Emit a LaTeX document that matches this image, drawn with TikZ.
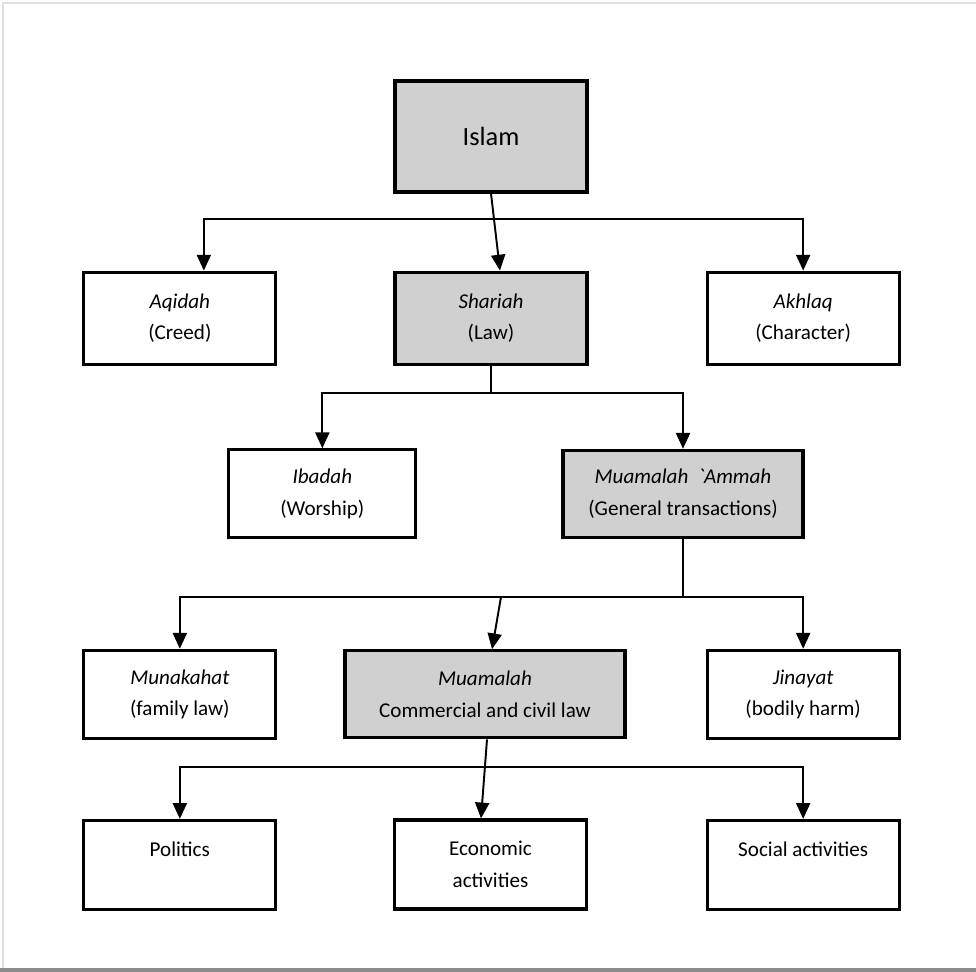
\documentclass[tikz,border=0pt]{standalone}
\usepackage{fontspec}
\setmainfont{Carlito}
\usepackage{xcolor}
\usepackage{tikz}
\usetikzlibrary{positioning,arrows.meta,calc}
\definecolor{boxgray}{RGB}{208,208,208}

\begin{document}
\begin{tikzpicture}[node distance=1.6cm, auto]
\tikzset{
    box/.style={rectangle, draw=black, line width=1.8pt, align=center, minimum width=3.84cm, minimum height=1.84cm, fill=white, font=\fontsize{12}{18}\selectfont},
    shaded/.style={box, fill=boxgray},
    arrow/.style={-{Triangle[length=9pt,width=8pt]}, line width=1.1pt},
    line/.style={line width=1.1pt}
}
\useasboundingbox (0,0) rectangle (19.52,-19.44);
\draw[black!12, line width=1pt] (0.06,-19.36) |- (19.52,-0.06);
\fill[black!45] (0,-19.36) rectangle (19.52,-19.44);

\node[shaded, minimum height=2.22cm, font=\fontsize{15}{18}\selectfont] (islam) at (9.82,-2.73) {Islam};
\node[shaded, below=1.54cm of islam] (shariah) {\textit{Shariah}\\(Law)};
\node[box, left=2.32cm of shariah] (aqidah) {\textit{Aqidah}\\(Creed)};
\node[box, right=2.34cm of shariah] (akhlaq) {\textit{Akhlaq}\\(Character)};
\node[shaded, below=1.66cm of shariah, xshift=3.84cm, minimum width=4.8cm, minimum height=1.74cm] (ammah) {\textit{Muamalah \ \textasciigrave Ammah}\\(General transactions)};
\node[box, left=2.88cm of ammah, minimum width=3.74cm, minimum height=1.76cm] (ibadah) {\textit{Ibadah}\\(Worship)};
\node[box, below=5.66cm of aqidah, minimum height=1.76cm] (munakahat) {\textit{Munakahat}\\(family law)};
\node[box, below=5.66cm of akhlaq, minimum height=1.76cm] (jinayat) {\textit{Jinayat}\\(bodily harm)};
\node[shaded, right=1.32cm of munakahat, minimum width=5.6cm, minimum height=1.74cm] (muamalah) {\textit{Muamalah}\\Commercial and civil law};
\node[box, below=1.58cm of munakahat, minimum height=1.78cm] (politics) {Politics\\\phantom{activities}};
\node[box, below=1.58cm of muamalah, xshift=0.11cm, minimum height=1.78cm] (economic) {Economic\\activities};
\node[box, below=1.58cm of jinayat, minimum height=1.78cm] (social) {Social activities\\\phantom{activities}};

\coordinate (busA) at ([yshift=-0.5cm]islam.south);
\draw[arrow] (islam.south) -- ([xshift=0.18cm]shariah.north);
\draw[arrow] (busA) -| ([xshift=0.48cm]aqidah.north);
\draw[arrow] (busA) -| (akhlaq.north);

\coordinate (busB) at ([yshift=-0.54cm]shariah.south);
\draw[line] (shariah.south) -- (busB);
\draw[arrow] (busB) -| (ibadah.north);
\draw[arrow] (busB) -| (ammah.north);

\coordinate (busC) at ([yshift=-1.16cm]ammah.south);
\coordinate (busCm) at (busC -| muamalah.north);
\draw[line] (ammah.south) -- (busC);
\draw[arrow] (busC) -| (munakahat.north);
\draw[arrow] (busC) -| (jinayat.north);
\draw[arrow] ([xshift=0.32cm]busCm) -- ([xshift=0.14cm]muamalah.north);

\coordinate (busD) at ([yshift=-0.56cm]muamalah.south);
\draw[arrow] (busD) -| (politics.north);
\draw[arrow] (busD) -| (social.north);
\draw[arrow] ([xshift=0.04cm]muamalah.south) -- ([xshift=-0.19cm]economic.north);
\end{tikzpicture}
\end{document}
